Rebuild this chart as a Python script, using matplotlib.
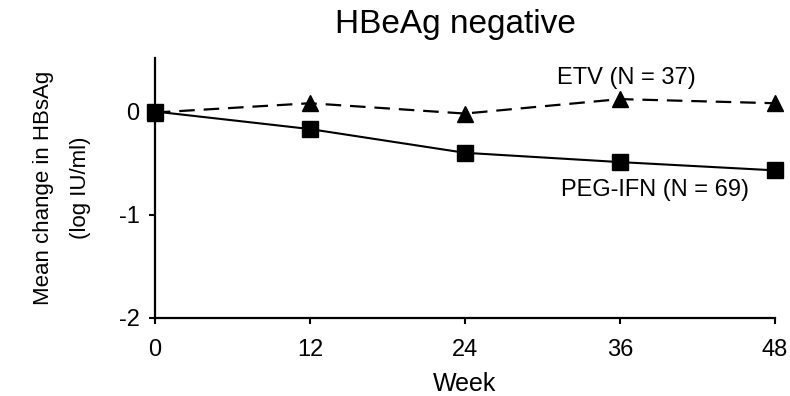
import matplotlib.pyplot as plt

plt.rcParams['font.family'] = ['Liberation Sans', 'DejaVu Sans']

weeks = [0, 12, 24, 36, 48]
peg_ifn = [0.0, -0.17, -0.40, -0.49, -0.57]
etv = [-0.01, 0.08, -0.02, 0.12, 0.08]

fig = plt.figure(figsize=(7.9, 3.96), dpi=100)
ax = fig.add_axes([0.196, 0.197, 0.785, 0.657])

ax.plot(weeks, etv, 'k--', marker='^', markersize=11, linewidth=1.6,
        dashes=(7, 4), clip_on=False, zorder=3)
ax.plot(weeks, peg_ifn, 'k-', marker='s', markersize=12, linewidth=1.5,
        clip_on=False, zorder=4)

ax.text(36.5, 0.32, 'ETV (N = 37)', fontsize=17, ha='center', va='center')
ax.text(38.7, -0.76, 'PEG-IFN (N = 69)', fontsize=17, ha='center', va='center')

ax.set_xlim(0, 48)
ax.set_ylim(-2, 0.52)
ax.set_xticks(weeks)
ax.set_yticks([-2, -1, 0])
ax.set_yticklabels(['-2', '-1', '0'])
ax.tick_params(labelsize=17, width=1.5, length=4)
ax.tick_params(axis='x', pad=11)
ax.tick_params(axis='y', pad=7)
for s in ['top', 'right']:
    ax.spines[s].set_visible(False)
for s in ['left', 'bottom']:
    ax.spines[s].set_linewidth(1.6)

ax.set_xlabel('Week', fontsize=18, labelpad=8)
ax.set_ylabel('Mean change in HBsAg\n(log IU/ml)', fontsize=16, labelpad=20,
              linespacing=2.0)
ax.set_title('HBeAg negative', fontsize=24, pad=18, x=0.485)

fig.savefig('out.png', dpi=100)
